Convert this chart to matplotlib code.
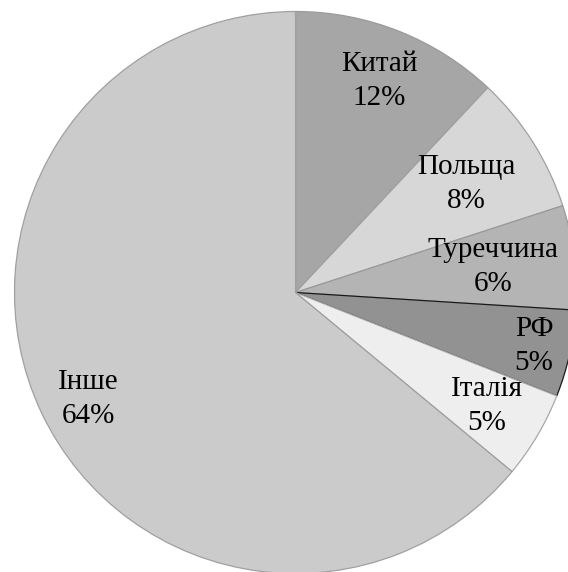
import matplotlib
matplotlib.use("Agg")
import matplotlib.pyplot as plt
import numpy as np

countries = ["Китай", "Польща", "Туреччина", "РФ", "Італія", "Інше"]
shares = [12, 8, 6, 5, 5, 64]

colors = ["#a6a6a6", "#d7d7d7", "#b4b4b4", "#929292", "#eeeeee", "#cbcbcb"]
edge_colors = ["#9a9a9a", "#a0a0a0", "#9a9a9a", "#1a1a1a", "#a8a8a8", "#a0a0a0"]
label_dist = [0.81, 0.72, 0.71, 0.87, 0.79, 0.83]
label_angle_shift = [0, 0, 0, 0, 0, 2]

W, H = 568, 572
fig = plt.figure(figsize=(W / 100, H / 100), dpi=100)
ax = fig.add_axes([0, 0, 1, 1])

cx, cy, R = 295.5, 292.5, 281.0
wedges, _ = ax.pie(shares, startangle=90, counterclock=False, colors=colors,
                   radius=1.0, center=(0, 0),
                   wedgeprops=dict(linewidth=0.9))
for w, ec in zip(wedges, edge_colors):
    w.set_edgecolor(ec)

for w, name, val, d, sh in zip(wedges, countries, shares, label_dist, label_angle_shift):
    mid = np.deg2rad((w.theta1 + w.theta2) / 2 + sh)
    x, y = d * np.cos(mid), d * np.sin(mid)
    ax.text(x, y, f"{name}\n{val}%", ha="center", va="center",
            fontsize=21, family="Liberation Serif", color="#000000",
            linespacing=1.4)

ax.set_xlim(-cx / R, (W - cx) / R)
ax.set_ylim(-(H - cy) / R, cy / R)
ax.set_aspect("auto")
ax.axis("off")

fig.savefig("out.png", dpi=100, facecolor="white")
